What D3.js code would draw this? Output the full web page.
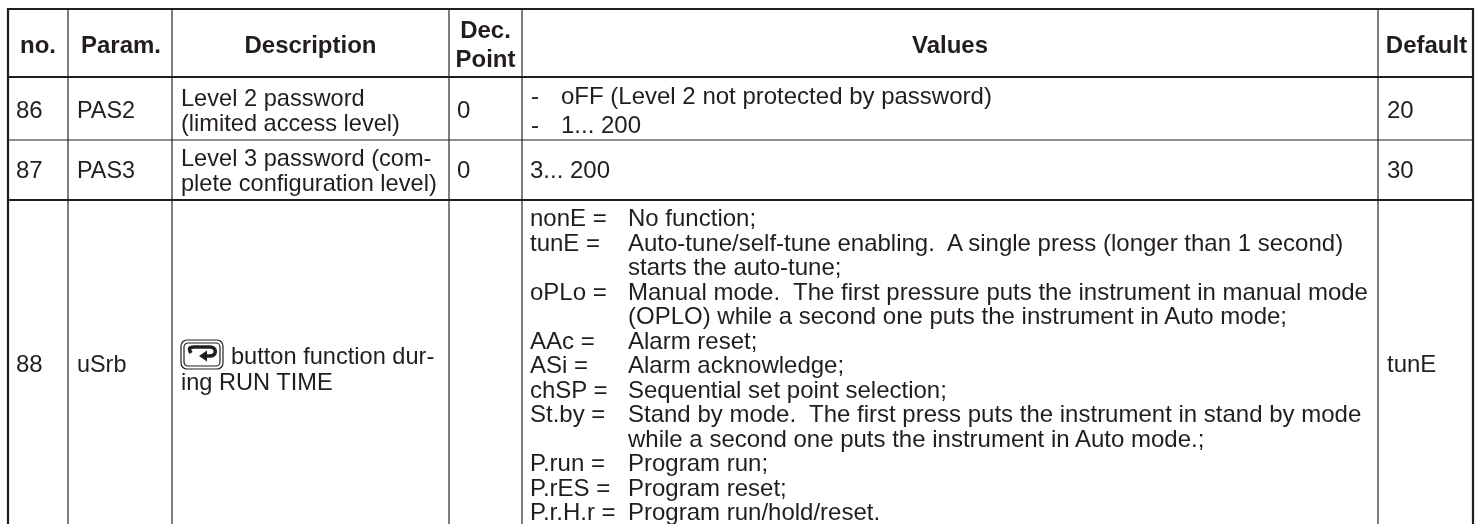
<!DOCTYPE html>
<html>
<head>
<meta charset="utf-8">
<script src="https://cdn.jsdelivr.net/npm/d3@7"></script>
<style>
	html, body { margin: 0; padding: 0; background: #fff; }
	svg { display: block; }
	text { font-family: "Liberation Sans", Arial, sans-serif; fill: #231f20; }
</style>
</head>
<body>
<div id="table"></div>
<script>
const headers = [["no."], ["Param."], ["Description"], ["Dec.", "Point"], ["Values"], ["Default"]];
const numbers = ["86", "87", "88"];
const params = ["PAS2", "PAS3", "uSrb"];
const descriptions = [
	["Level 2 password", "(limited access level)"],
	["Level 3 password (com-", "plete configuration level)"],
	["button function dur-", "ing RUN TIME"]
];
const decPoints = ["0", "0", ""];
const defaults = ["20", "30", "tunE"];
const values86 = ["-", "oFF (Level 2 not protected by password)", "-", "1... 200"];
const value87 = "3... 200";
const keys88 = ["nonE =", "tunE =", "", "oPLo =", "", "AAc =", "ASi =", "chSP =", "St.by =", "", "P.run =", "P.rES =", "P.r.H.r ="];
const text88 = [
	"No function;",
	"Auto-tune/self-tune enabling.  A single press (longer than 1 second)",
	"starts the auto-tune;",
	"Manual mode.  The first pressure puts the instrument in manual mode",
	"(OPLO) while a second one puts the instrument in Auto mode;",
	"Alarm reset;",
	"Alarm acknowledge;",
	"Sequential set point selection;",
	"Stand by mode.  The first press puts the instrument in stand by mode",
	"while a second one puts the instrument in Auto mode.;",
	"Program run;",
	"Program reset;",
	"Program run/hold/reset."
];

const width = 1479;
const height = 524;
const colX = [8, 68, 172, 449, 522, 1378, 1473];
const rowY = [9, 77, 140, 200, 540];
const fontSize = 24;

const svg = d3.select("#table")
	.append("svg")
	.attr("width", width)
	.attr("height", height)
	.attr("viewBox", [0, 0, width, height]);

svg.append("filter")
	.attr("id", "soft")
	.attr("filterUnits", "userSpaceOnUse")
	.attr("x", 0).attr("y", 0)
	.attr("width", width).attr("height", height)
	.append("feGaussianBlur")
	.attr("stdDeviation", 0.4);

const g = svg.append("g").attr("filter", "url(#soft)");

// inner grid lines
g.append("g")
	.selectAll("line")
	.data(colX.slice(1, -1))
	.join("line")
	.attr("x1", d => d).attr("x2", d => d)
	.attr("y1", rowY[0]).attr("y2", height)
	.attr("stroke", "#3a3839")
	.attr("stroke-width", 1.3);

g.append("g")
	.selectAll("line")
	.data(rowY.slice(1, -1))
	.join("line")
	.attr("x1", colX[0]).attr("x2", colX[6])
	.attr("y1", d => d).attr("y2", d => d)
	.attr("stroke", "#231f20")
	.attr("stroke-width", (d, i) => i === 1 ? 1.2 : 2);

// outer frame, bottom runs off the page
g.append("path")
	.attr("d", `M${colX[0]},${height}V${rowY[0]}H${colX[6]}V${height}`)
	.attr("fill", "none")
	.attr("stroke", "#231f20")
	.attr("stroke-width", 2.2);

function line(x, y, s, anchor, bold, size) {
	g.append("text")
		.attr("x", x)
		.attr("y", y)
		.attr("text-anchor", anchor || "start")
		.attr("font-size", size || fontSize)
		.attr("font-weight", bold ? "bold" : null)
		.attr("xml:space", "preserve")
		.text(s);
}

// header row
headers.forEach((h, i) => {
	const cx = (colX[i] + colX[i + 1]) / 2 + (i === 1 || i === 5 ? 1 : 0);
	if (h.length > 1) {
		h.forEach((s, j) => line(cx, 38 + j * 29, s, "middle", true));
	} else {
		line(cx, 52.5, h[0], "middle", true);
	}
});

// first three columns, dec. point and default
const firstY = [117.5, 178, 372];
numbers.forEach((d, i) => {
	line(colX[0] + 8, firstY[i], d);
	line(colX[1] + 9, firstY[i], params[i], null, false, 23.4);
	line(colX[3] + 8, firstY[i], decPoints[i]);
	line(colX[5] + 9, firstY[i], defaults[i]);
});

const descY = [[106, 131], [166, 191], [364, 390]];
descriptions.forEach((d, i) => {
	d.forEach((s, j) => {
		const x = colX[2] + 9 + (i === 2 && j === 0 ? 50 : 0);
		line(x, descY[i][j], s, null, false, 23.6);
	});
});

// button icon in the uSrb description
const icon = g.append("g").attr("transform", "translate(181,340)");
icon.append("rect")
	.attr("width", 42).attr("height", 29).attr("rx", 6)
	.attr("fill", "none").attr("stroke", "#231f20").attr("stroke-width", 1.2);
icon.append("rect")
	.attr("x", 3).attr("y", 3).attr("width", 36).attr("height", 23).attr("rx", 4)
	.attr("fill", "none").attr("stroke", "#231f20").attr("stroke-width", 1.2);
icon.append("path")
	.attr("d", "M10,13 C7,8 9,7 13,7 H29 C36,7 36,16 29,16 H24")
	.attr("fill", "none").attr("stroke", "#231f20").attr("stroke-width", 3.6);
icon.append("path")
	.attr("d", "M26,10.5 L18,16 L26,21.5 Z")
	.attr("fill", "#231f20");

// values column
line(colX[4] + 9, 104, values86[0]);
line(colX[4] + 39, 104, values86[1]);
line(colX[4] + 9, 133, values86[2]);
line(colX[4] + 39, 133, values86[3]);
line(colX[4] + 8, 178, value87);

const baseY = d3.scaleLinear().domain([0, 12]).range([226, 520]);
keys88.forEach((k, i) => {
	line(colX[4] + 8, baseY(i), k);
	line(colX[4] + 106, baseY(i), text88[i]);
});
</script>
</body>
</html>
